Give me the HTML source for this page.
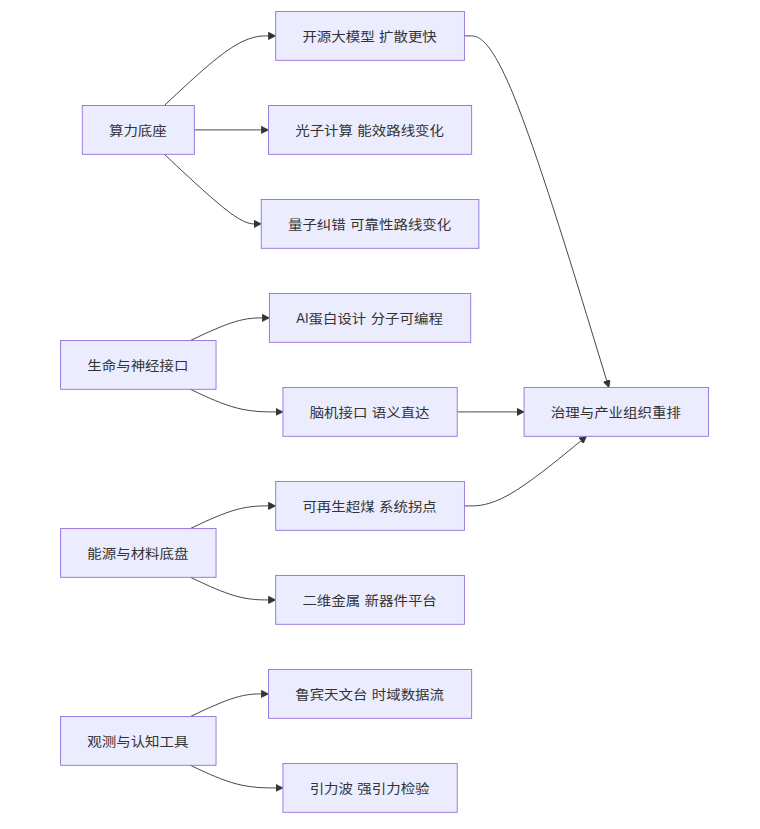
<!DOCTYPE html>
<html lang="zh-CN"><head><meta charset="utf-8"><title>flowchart</title>
<style>
html,body{margin:0;padding:0;background:#fff;}
body{width:760px;height:829px;overflow:hidden;}
svg{display:block;}
.node rect{fill:#ECECFF;stroke:#9370DB;stroke-width:1px;}
.edge{fill:none;stroke:#333333;stroke-width:1px;}
.lat{font-size:18.18px;}
.lbl{font-family:"Liberation Sans","Noto Sans CJK SC",sans-serif;font-size:16px;fill:#333;text-anchor:middle;word-spacing:0.35px;}
</style></head><body>
<svg width="760" height="829" viewBox="0 0 760 829">
<defs><marker id="pe" viewBox="0 0 10 10" refX="5" refY="5" markerUnits="userSpaceOnUse" markerWidth="8" markerHeight="8" orient="auto"><path d="M 0 0 L 10 5 L 0 10 z" style="fill:#333333;stroke:#333333;stroke-width:1;"/></marker></defs>
<g transform="translate(53.35,4.27) scale(0.90385)">
<g class="edges">
<path class="edge" d="M122.817,112.000L136.514,99.167C150.212,86.333,177.606,60.667,197.470,47.833C217.333,35.000,229.667,35.000,235.833,35.000L242.000,35.000" marker-end="url(#pe)"/>
<path class="edge" d="M156.000,139.000L164.167,139.000C172.333,139.000,188.667,139.000,201.667,139.000C214.667,139.000,224.333,139.000,229.167,139.000L234.000,139.000" marker-end="url(#pe)"/>
<path class="edge" d="M122.817,166.000L136.514,178.833C150.212,191.667,177.606,217.333,194.803,230.167C212.000,243.000,219.000,243.000,222.500,243.000L226.000,243.000" marker-end="url(#pe)"/>
<path class="edge" d="M151.635,372.000L160.529,367.833C169.423,363.667,187.212,355.333,201.114,351.167C215.017,347.000,225.033,347.000,230.042,347.000L235.050,347.000" marker-end="url(#pe)"/>
<path class="edge" d="M151.635,426.000L160.529,430.167C169.423,434.333,187.212,442.667,203.606,446.833C220.000,451.000,235.000,451.000,242.500,451.000L250.000,451.000" marker-end="url(#pe)"/>
<path class="edge" d="M151.635,580.000L160.529,575.833C169.423,571.667,187.212,563.333,202.272,559.167C217.333,555.000,229.667,555.000,235.833,555.000L242.000,555.000" marker-end="url(#pe)"/>
<path class="edge" d="M151.635,634.000L160.529,638.167C169.423,642.333,187.212,650.667,202.272,654.833C217.333,659.000,229.667,659.000,235.833,659.000L242.000,659.000" marker-end="url(#pe)"/>
<path class="edge" d="M151.635,788.000L160.529,783.833C169.423,779.667,187.212,771.333,200.939,767.167C214.667,763.000,224.333,763.000,229.167,763.000L234.000,763.000" marker-end="url(#pe)"/>
<path class="edge" d="M151.635,842.000L160.529,846.167C169.423,850.333,187.212,858.667,203.606,862.833C220.000,867.000,235.000,867.000,242.500,867.000L250.000,867.000" marker-end="url(#pe)"/>
<path class="edge" d="M454.800,35.000L461.633,35.000C468.467,35.000,482.133,35.000,508.565,99.196C534.996,163.391,574.193,291.783,593.791,355.979L613.389,420.174" marker-end="url(#pe)"/>
<path class="edge" d="M446.800,451.000L454.967,451.000C463.133,451.000,479.467,451.000,491.133,451.000C502.800,451.000,509.800,451.000,513.300,451.000L516.800,451.000" marker-end="url(#pe)"/>
<path class="edge" d="M454.800,555.000L461.633,555.000C468.467,555.000,482.133,555.000,504.122,542.589C526.111,530.178,556.423,505.356,571.578,492.945L586.734,480.534" marker-end="url(#pe)"/>
</g><g class="nodes">
<g class="node" transform="translate(94.00,139.00)"><rect x="-62.00" y="-27" width="124.00" height="54"/><text class="lbl" transform="translate(-0.5,0.65) scale(1,0.88)" x="0" y="5.5">算力底座</text></g>
<g class="node" transform="translate(350.40,35.00)"><rect x="-104.40" y="-27" width="208.80" height="54"/><text class="lbl" transform="translate(-0.5,0.65) scale(1,0.88)" x="0" y="5.5">开源大模型 扩散更快</text></g>
<g class="node" transform="translate(350.40,139.00)"><rect x="-112.40" y="-27" width="224.80" height="54"/><text class="lbl" transform="translate(-0.5,0.65) scale(1,0.88)" x="0" y="5.5">光子计算 能效路线变化</text></g>
<g class="node" transform="translate(350.40,243.00)"><rect x="-120.40" y="-27" width="240.80" height="54"/><text class="lbl" transform="translate(-0.5,0.65) scale(1,0.88)" x="0" y="5.5">量子纠错 可靠性路线变化</text></g>
<g class="node" transform="translate(94.00,399.00)"><rect x="-86.00" y="-27" width="172.00" height="54"/><text class="lbl" transform="translate(-0.5,0.65) scale(1,0.88)" x="0" y="5.5">生命与神经接口</text></g>
<g class="node" transform="translate(350.40,347.00)"><rect x="-111.35" y="-27" width="222.70" height="54"/><text class="lbl" transform="translate(-0.5,0.65) scale(1,0.88)" x="0" y="5.5"><tspan class="lat" textLength="13.5" lengthAdjust="spacingAndGlyphs">AI</tspan>蛋白设计 分子可编程</text></g>
<g class="node" transform="translate(350.40,451.00)"><rect x="-96.40" y="-27" width="192.80" height="54"/><text class="lbl" transform="translate(-0.5,0.65) scale(1,0.88)" x="0" y="5.5">脑机接口 语义直达</text></g>
<g class="node" transform="translate(94.00,607.00)"><rect x="-86.00" y="-27" width="172.00" height="54"/><text class="lbl" transform="translate(-0.5,0.65) scale(1,0.88)" x="0" y="5.5">能源与材料底盘</text></g>
<g class="node" transform="translate(350.40,555.00)"><rect x="-104.40" y="-27" width="208.80" height="54"/><text class="lbl" transform="translate(-0.5,0.65) scale(1,0.88)" x="0" y="5.5">可再生超煤 系统拐点</text></g>
<g class="node" transform="translate(350.40,659.00)"><rect x="-104.40" y="-27" width="208.80" height="54"/><text class="lbl" transform="translate(-0.5,0.65) scale(1,0.88)" x="0" y="5.5">二维金属 新器件平台</text></g>
<g class="node" transform="translate(94.00,815.00)"><rect x="-86.00" y="-27" width="172.00" height="54"/><text class="lbl" transform="translate(-0.5,0.65) scale(1,0.88)" x="0" y="5.5">观测与认知工具</text></g>
<g class="node" transform="translate(350.40,763.00)"><rect x="-112.40" y="-27" width="224.80" height="54"/><text class="lbl" transform="translate(-0.5,0.65) scale(1,0.88)" x="0" y="5.5">鲁宾天文台 时域数据流</text></g>
<g class="node" transform="translate(350.40,867.00)"><rect x="-96.40" y="-27" width="192.80" height="54"/><text class="lbl" transform="translate(-0.5,0.65) scale(1,0.88)" x="0" y="5.5">引力波 强引力检验</text></g>
<g class="node" transform="translate(622.80,451.00)"><rect x="-102.00" y="-27" width="204.00" height="54"/><text class="lbl" transform="translate(-0.5,0.65) scale(1,0.88)" x="0" y="5.5">治理与产业组织重排</text></g>
</g></g></svg></body></html>
